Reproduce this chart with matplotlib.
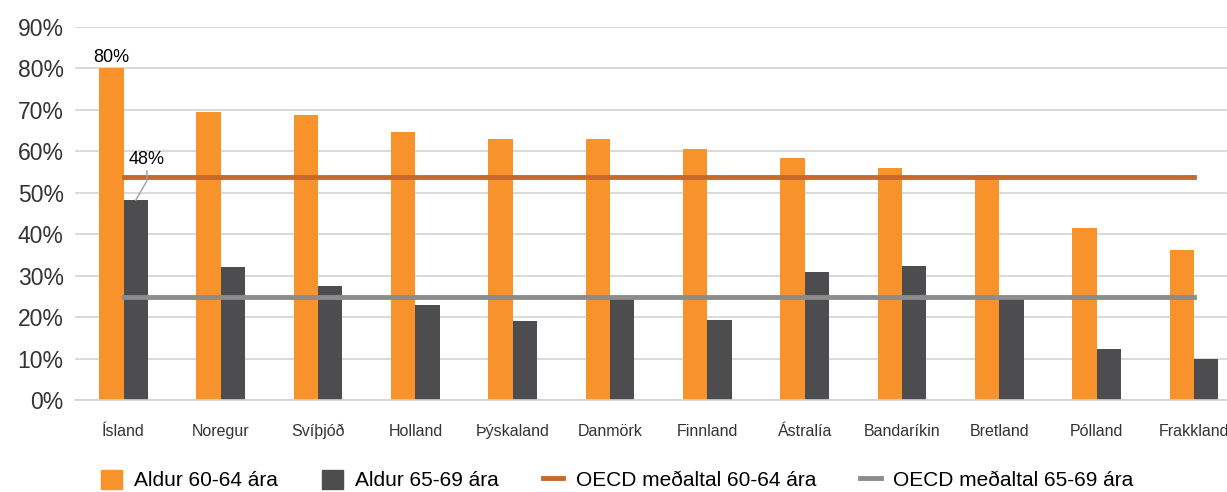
import matplotlib
matplotlib.use("Agg")
import matplotlib.pyplot as plt
from matplotlib.patches import Patch
from matplotlib.lines import Line2D
from matplotlib.ticker import PercentFormatter

countries = ["Ísland", "Noregur", "Svíþjóð", "Holland", "Þýskaland", "Danmörk",
             "Finnland", "Ástralía", "Bandaríkin", "Bretland", "Pólland", "Frakkland"]
aldur_60_64 = [80.0, 69.4, 68.7, 64.6, 63.1, 62.9, 60.5, 58.3, 55.9, 54.2, 41.4, 36.1]
aldur_65_69 = [48.2, 32.0, 27.5, 22.9, 19.0, 24.6, 19.3, 30.8, 32.3, 25.2, 12.2, 9.8]
oecd_60_64 = 53.7
oecd_65_69 = 24.8

orange = "#F7932A"
dark = "#4D4D4F"
line_orange = "#C8692B"
line_gray = "#8C8C8C"

plt.rcParams['font.family'] = ['Liberation Sans', 'DejaVu Sans']

fig = plt.figure(figsize=(12.27, 4.92), dpi=100)
ax = fig.add_axes([0.061, 0.187, 0.939, 0.758])

x = list(range(len(countries)))
w = 0.25
ax.bar([i - w / 2 for i in x], aldur_60_64, width=w, color=orange, zorder=2)
ax.bar([i + w / 2 for i in x], aldur_65_69, width=w, color=dark, zorder=2)
ax.plot(x, [oecd_60_64] * len(x), color=line_orange, lw=3.5, zorder=3)
ax.plot(x, [oecd_65_69] * len(x), color=line_gray, lw=3.5, zorder=3)

ax.set_xlim(-0.5, 11.34)
ax.set_ylim(0, 90)
ax.set_yticks(range(0, 91, 10))
ax.yaxis.set_major_formatter(PercentFormatter(decimals=0))
ax.set_xticks(x)
ax.set_xticklabels(countries, fontsize=11.5, color="#333333")
ax.tick_params(axis="y", labelsize=16.5, colors="#333333", length=0, pad=8)
ax.tick_params(axis="x", length=0, pad=17)
ax.grid(axis="y", color="#D3D3D3", lw=1.2, zorder=0)
for s in ["top", "right", "left"]:
    ax.spines[s].set_visible(False)
ax.spines["bottom"].set_color("#D3D3D3")
ax.spines["bottom"].set_linewidth(1.2)

ax.text(0 - w / 2, aldur_60_64[0] + 0.5, "80%", ha="center", va="bottom", fontsize=13)
ax.annotate("48%", xy=(0 + w / 2, aldur_65_69[0]), xytext=(0.24, 56),
            ha="center", va="bottom", fontsize=13,
            arrowprops=dict(arrowstyle="-", color="#A0A0A0", lw=1,
                            shrinkA=0, shrinkB=0,
                            connectionstyle="angle,angleA=90,angleB=60,rad=0"))

handles = [Patch(color=orange), Patch(color=dark),
           Line2D([], [], color=line_orange, lw=3.5),
           Line2D([], [], color=line_gray, lw=3.5)]
labels = ["Aldur 60-64 ára", "Aldur 65-69 ára", "OECD meðaltal 60-64 ára", "OECD meðaltal 65-69 ára"]
fig.legend(handles, labels, loc="lower center", bbox_to_anchor=(0.503, -0.035), ncol=4,
           frameon=False, fontsize=15, columnspacing=2.1, handlelength=1.0,
           handleheight=1.0, handletextpad=0.6)

fig.savefig("out.png", dpi=100)
